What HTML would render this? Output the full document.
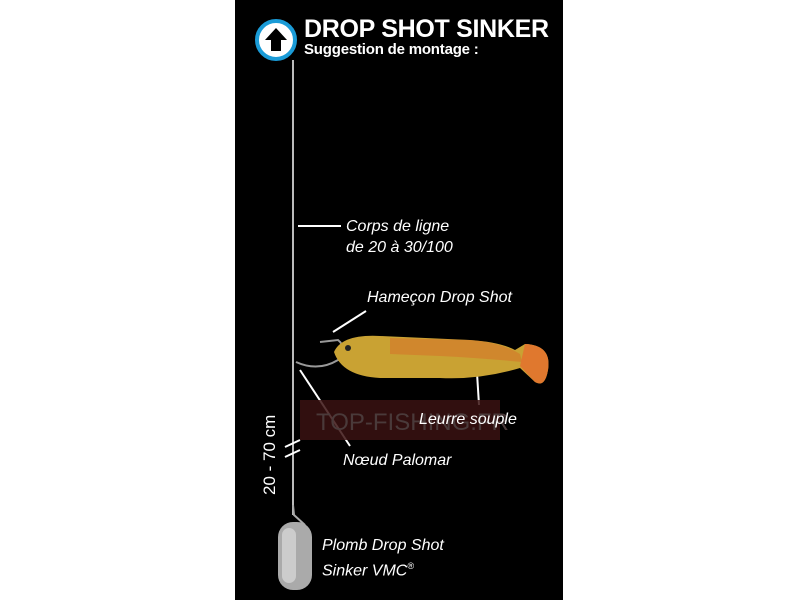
<!DOCTYPE html>
<html><head><style>
body{margin:0;width:800px;height:600px;background:#fff;position:relative;overflow:hidden;font-family:"Liberation Sans",sans-serif}
#p{position:absolute;left:235px;top:0;width:328px;height:600px;background:#000}
.t{position:absolute;color:#fff;font-style:italic;font-size:16px;white-space:nowrap}
</style></head><body>
<div id="p"></div>
<svg width="800" height="600" style="position:absolute;left:0;top:0">
<circle cx="276" cy="40" r="19" fill="#fff" stroke="#1a9bd7" stroke-width="4"/>
<path d="M276 28 L265 40 L271 40 L271 51 L281 51 L281 40 L287 40 Z" fill="#000"/>
<line x1="293" y1="60" x2="293" y2="515" stroke="#bbb" stroke-width="2"/>
<line x1="298" y1="226" x2="341" y2="226" stroke="#fff" stroke-width="2"/>
<line x1="333" y1="332" x2="366" y2="311" stroke="#fff" stroke-width="2"/>
<line x1="300" y1="370" x2="350" y2="446" stroke="#fff" stroke-width="2"/>
<line x1="477" y1="373" x2="479" y2="405" stroke="#fff" stroke-width="2"/>
<line x1="285" y1="447" x2="300" y2="440" stroke="#fff" stroke-width="2"/>
<line x1="285" y1="457" x2="300" y2="450" stroke="#fff" stroke-width="2"/>
<path d="M320 342 L338 340 Q348 348 338 360 Q318 372 296 362" fill="none" stroke="#999" stroke-width="2"/>
<path d="M334 352 Q342 334 380 336 L470 340 Q500 342 515 350 L525 344 Q552 345 548 370 Q545 388 535 382 L520 368 Q480 380 440 378 L380 378 Q342 376 334 352Z" fill="#c9a233"/>
<path d="M390 338 L470 340 Q500 342 520 354 L522 362 Q480 358 440 356 L390 354Z" fill="#d5742a" opacity=".6"/>
<path d="M525 344 Q552 345 548 370 Q545 388 535 382 L520 366Z" fill="#e0782e"/>
<circle cx="348" cy="348" r="3" fill="#222"/>
<rect x="300" y="400" width="200" height="40" fill="#3a1212" opacity=".85"/>
<text x="316" y="430" font-size="24" fill="#4a3a3a" font-family="Liberation Sans">TOP-FISHING.FR</text>
<path d="M293 505 L294 515 L305 525" stroke="#aaa" stroke-width="2" fill="none"/>
<rect x="278" y="522" width="34" height="68" rx="15" fill="#aaa"/>
<rect x="282" y="528" width="14" height="55" rx="7" fill="#ccc"/>
</svg>
<div style="position:absolute;left:304px;top:15px;color:#fff;font-weight:bold;font-size:25px;letter-spacing:-0.3px">DROP SHOT SINKER</div>
<div style="position:absolute;left:304px;top:41px;color:#fff;font-weight:bold;font-size:15px;letter-spacing:-0.2px">Suggestion de montage :</div>
<div class="t" style="left:346px;top:218px">Corps de ligne</div>
<div class="t" style="left:346px;top:239px">de 20 à 30/100</div>
<div class="t" style="left:367px;top:289px">Hameçon Drop Shot</div>
<div class="t" style="left:419px;top:411px">Leurre souple</div>
<div class="t" style="left:343px;top:452px">Nœud Palomar</div>
<div class="t" style="left:322px;top:537px">Plomb Drop Shot</div>
<div class="t" style="left:322px;top:561px">Sinker VMC<sup style="font-size:9px">®</sup></div>
<div style="position:absolute;left:230px;top:445px;color:#fff;font-size:17px;transform:rotate(-90deg);transform-origin:center;width:80px;text-align:center;white-space:nowrap">20 - 70 cm</div>
</body></html>
